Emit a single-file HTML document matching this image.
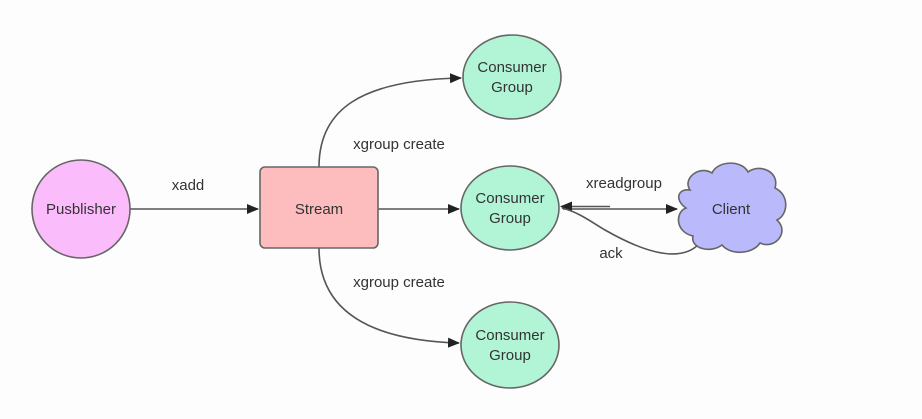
<!DOCTYPE html>
<html><head><meta charset="utf-8"><style>
html,body{margin:0;padding:0;background:#fdfdfd;}
svg{display:block;font-family:"Liberation Sans",Arial,sans-serif;}
</style></head><body>
<svg width="922" height="419" viewBox="0 0 922 419" xmlns="http://www.w3.org/2000/svg">
<defs>
<marker id="a" markerWidth="12" markerHeight="10" refX="11" refY="5" orient="auto" markerUnits="userSpaceOnUse">
<path d="M0,0 L12,5 L0,10 z" fill="#222"/></marker>
</defs>
<rect x="0" y="0" width="922" height="419" fill="#fdfdfd"/>
<g stroke="#555" stroke-width="1.6" fill="none">
<line x1="130" y1="209" x2="258" y2="209" marker-end="url(#a)"/>
<line x1="378" y1="209" x2="459" y2="209" marker-end="url(#a)"/>
<path d="M319,167 C319,110 360,80 461,78" marker-end="url(#a)"/>
<path d="M319,248 C319,305 360,340 459,343" marker-end="url(#a)"/>
<line x1="563" y1="209" x2="677" y2="209" marker-end="url(#a)"/>
<line x1="610" y1="206.5" x2="561" y2="206.5" marker-end="url(#a)"/>
<path d="M700,243 C680,265 640,250 605,230 C590,221 578,212 562,208"/>
</g>
<circle cx="81" cy="209" r="49" fill="#fbbcfb" stroke="#666" stroke-width="1.6"/>
<rect x="260" y="167" width="118" height="81" rx="5" fill="#fdbcbd" stroke="#666" stroke-width="1.6"/>
<ellipse cx="512" cy="77" rx="49" ry="42" fill="#b1f4d6" stroke="#666" stroke-width="1.6"/>
<ellipse cx="510" cy="208" rx="49" ry="42" fill="#b1f4d6" stroke="#666" stroke-width="1.6"/>
<ellipse cx="510" cy="345" rx="49" ry="43" fill="#b1f4d6" stroke="#666" stroke-width="1.6"/>
<path d="M690,190 C682,178 700,165 712,173 C718,160 742,160 748,172 C760,163 780,172 775,188 C790,195 788,215 777,220 C790,232 775,250 760,243 C752,255 730,255 722,245 C710,254 690,248 693,236 C675,232 675,212 686,208 C674,200 678,188 690,190 z" fill="#b9b9fb" stroke="#666" stroke-width="1.6"/>
<g fill="#333" font-size="15" text-anchor="middle">
<text x="81" y="214">Pusblisher</text>
<text x="319" y="214">Stream</text>
<text x="512" y="72">Consumer</text><text x="512" y="92">Group</text>
<text x="510" y="203">Consumer</text><text x="510" y="223">Group</text>
<text x="510" y="340">Consumer</text><text x="510" y="360">Group</text>
<text x="731" y="214">Client</text>
<text x="188" y="190">xadd</text>
<text x="399" y="149">xgroup create</text>
<text x="399" y="287">xgroup create</text>
<text x="624" y="188">xreadgroup</text>
<text x="611" y="258">ack</text>
</g>
</svg>
</body></html>
